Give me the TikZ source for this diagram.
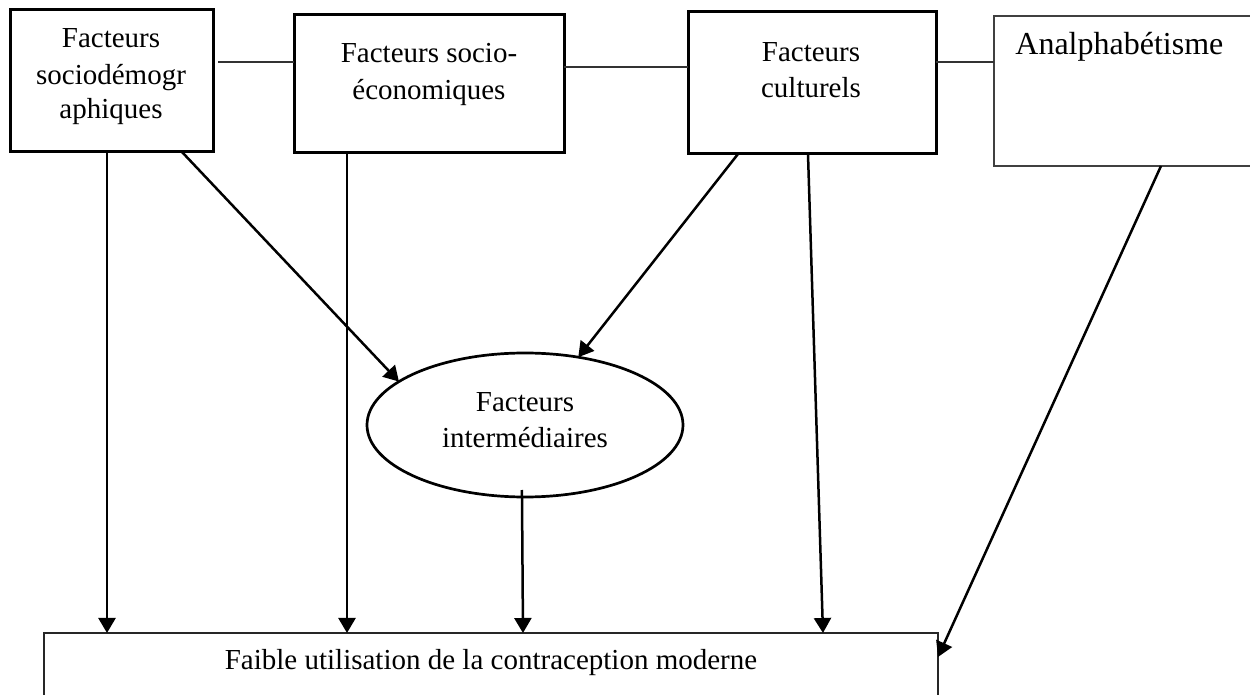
\documentclass[tikz,border=0pt]{standalone}
\usepackage{fontspec}
\setmainfont{Liberation Serif}
\usetikzlibrary{shapes.geometric,arrows.meta}
\tikzset{
  box/.style={draw=black, line width=1.5pt, inner sep=0, outer sep=0},
  lightbox/.style={draw=black!75, line width=1pt, inner sep=0, outer sep=0},
  oval/.style={ellipse, draw=black, line width=1.35pt, inner sep=0, outer sep=0},
  txt/.style={font=\fontsize{14.5pt}{17pt}\selectfont, inner sep=0, anchor=base},
  bigtxt/.style={font=\fontsize{16pt}{19pt}\selectfont, inner sep=0, anchor=base west},
  link/.style={draw=black!80, line width=0.7pt},
  arr/.style={draw=black, line width=1.25pt, -{Triangle[width=8.5pt,length=7.5pt]}}
}
\begin{document}
\begin{tikzpicture}[x=0.5pt,y=-0.5pt]
\useasboundingbox (0,0) rectangle (1250,695);
% boxes
\node[box, minimum width=101.5pt, minimum height=71pt] (b1) at (111.5,81) {};
\node[box, minimum width=135pt, minimum height=69pt] (b2) at (429,84) {};
\node[box, minimum width=124pt, minimum height=71pt] (b3) at (812,83) {};
\node[lightbox, minimum width=134pt, minimum height=75pt] (b4) at (1128,91) {};
\node[oval, minimum width=158pt, minimum height=72pt] (ell) at (525,425) {};
\node[lightbox, draw=black!85, line width=1.1pt, minimum width=447pt, minimum height=32pt] (bot) at (491,665) {};
% texts
\node[txt] (t1a) at (111,48) {Facteurs};
\node[txt] (t1b) at (111,85) {sociodémogr};
\node[txt] (t1c) at (111,119) {aphiques};
\node[txt] (t2a) at (429,63) {Facteurs socio-};
\node[txt] (t2b) at (429,100) {économiques};
\node[txt] (t3a) at (811,62) {Facteurs};
\node[txt] (t3b) at (811,98) {culturels};
\node[bigtxt] (t4) at (1015,55) {Analphabétisme};
\node[txt] (tea) at (525,412) {Facteurs};
\node[txt] (teb) at (525,448) {intermédiaires};
\node[txt] (tb) at (491,670) {Faible utilisation de la contraception moderne};
% horizontal links
\draw[link, shorten <=2.5pt] (b1.east |- 0,62) -- (b2.west |- 0,62);
\draw[link] (b2.east |- 0,67) -- (b3.west |- 0,67);
\draw[link] (b3.east |- 0,62) -- (b4.west |- 0,62);
% arrows
\draw[arr] (b1.south -| 107,0) -- (bot.north -| 107,0);
\draw[arr] (b2.south -| 347,0) -- (bot.north -| 347,0);
\draw[arr, shorten <=-3.5pt] (ell.south -| 522,0) -- (bot.north -| 523,0);
\draw[arr] (b1.south -| 182,0) -- (ell.161.8);
\draw[arr] (b3.south -| 738,0) -- (ell);
\draw[arr] (b3.south -| 808,0) -- (bot.north -| 823,0);
\draw[arr] (b4.south -| 1161,0) -- (bot.east |- 0,657);
\end{tikzpicture}
\end{document}
